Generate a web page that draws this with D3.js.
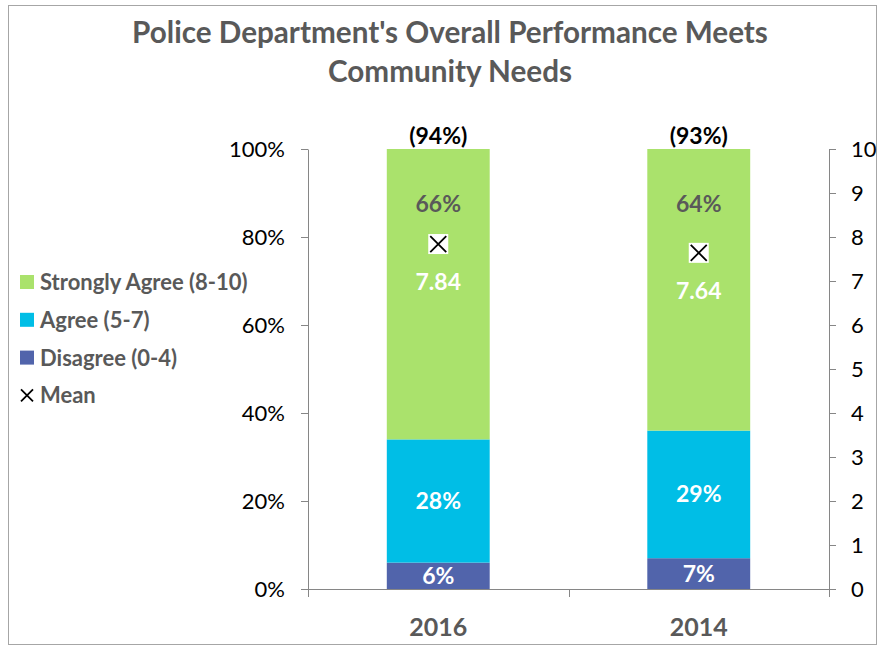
<!DOCTYPE html>
<html>
<head>
<meta charset="utf-8">
<script src="https://cdn.jsdelivr.net/npm/d3@7"></script>
<style>
  body { margin: 0; background: #fff; }
  svg { font-family: Lato, 'Open Sans', sans-serif; }
</style>
</head>
<body>
<div id="chart"></div>
<script>
// data
const years = ['2016', '2014'];
const disagree = [6, 7];
const agree = [28, 29];
const stronglyAgree = [66, 64];
const means = [7.84, 7.64];
const topLabels = ['(94%)', '(93%)'];
const percentTicks = [0, 0.2, 0.4, 0.6, 0.8, 1];
const meanTicks = [0, 1, 2, 3, 4, 5, 6, 7, 8, 9, 10];

const seriesNames = ['Disagree (0-4)', 'Agree (5-7)', 'Strongly Agree (8-10)'];
const seriesValues = [disagree, agree, stronglyAgree];
const colors = ['#5164ab', '#00bee6', '#aae26c'];

const width = 890;
const height = 646;
const plot = { left: 308, right: 829, top: 149, bottom: 589 };
const gray = '#595959';

const svg = d3.select('#chart')
  .append('svg')
  .attr('width', width)
  .attr('height', height);

// chart border
svg.append('rect')
  .attr('x', 8.5).attr('y', 5.5)
  .attr('width', 868).attr('height', 639)
  .attr('fill', '#fff')
  .attr('stroke', '#a6a6a6');

// scales
const x = d3.scaleBand().domain(years).range([plot.left, plot.right]);
const y = d3.scaleLinear().domain([0, 1]).range([plot.bottom, plot.top]);
const y2 = d3.scaleLinear().domain([0, 10]).range([plot.bottom, plot.top]);
const barWidth = x.bandwidth() * 0.395;

// stacked rows
const rows = years.map((year, i) => {
  const r = { year };
  seriesNames.forEach((name, s) => { r[name] = seriesValues[s][i]; });
  return r;
});
const stack = d3.stack().keys(seriesNames)(rows);

// title
const title = svg.append('g')
  .attr('fill', gray)
  .attr('font-weight', 700)
  .attr('text-anchor', 'middle');
['Police Department\'s Overall Performance Meets', 'Community Needs'].forEach((line, i) => {
  title.append('text')
    .attr('x', 450)
    .attr('y', 43 + i * 39)
    .attr('font-size', 26)
    .text(line);
});
// fit first line to reference width
const t0 = title.select('text').node();
const scale = 636 / t0.getComputedTextLength();
title.selectAll('text').attr('font-size', 26 * scale);

// axes
const axisColor = '#868686';
const leftAxis = svg.append('g')
  .attr('transform', `translate(${plot.left},0)`)
  .call(d3.axisLeft(y).tickValues(percentTicks).tickFormat(d3.format('.0%'))
    .tickSize(7).tickPadding(16).tickSizeOuter(0));
const rightAxis = svg.append('g')
  .attr('transform', `translate(${plot.right},0)`)
  .call(d3.axisRight(y2).tickValues(meanTicks).tickSize(7).tickPadding(15).tickSizeOuter(0));
[leftAxis, rightAxis].forEach((g) => {
  g.select('.domain').attr('stroke', axisColor);
  g.selectAll('.tick line').attr('stroke', axisColor);
  g.selectAll('.tick text')
    .attr('font-size', 22)
    .attr('font-family', 'Lato, sans-serif')
    .attr('fill', '#000');
});

// bottom axis
const bottom = svg.append('g');
bottom.append('line')
  .attr('x1', plot.left).attr('x2', plot.right)
  .attr('y1', plot.bottom + 0.5).attr('y2', plot.bottom + 0.5)
  .attr('stroke', axisColor);
bottom.selectAll('line.tick')
  .data([...years.map((d) => x(d)), plot.right])
  .join('line')
  .attr('class', 'tick')
  .attr('x1', (d) => Math.round(d) + 0.5).attr('x2', (d) => Math.round(d) + 0.5)
  .attr('y1', plot.bottom).attr('y2', plot.bottom + 8)
  .attr('stroke', axisColor);
bottom.selectAll('text')
  .data(years)
  .join('text')
  .attr('x', (d) => x(d) + x.bandwidth() / 2)
  .attr('y', 636)
  .attr('text-anchor', 'middle')
  .attr('font-size', 25)
  .attr('font-weight', 700)
  .attr('fill', gray)
  .text((d) => d);

// bars
const barX = (d) => x(d.data.year) + (x.bandwidth() - barWidth) / 2;
const layers = svg.append('g')
  .selectAll('g')
  .data(stack)
  .join('g')
  .attr('fill', (d, i) => colors[i]);
layers.selectAll('rect')
  .data((d) => d)
  .join('rect')
  .attr('x', barX)
  .attr('width', barWidth)
  .attr('y', (d) => y(d[1] / 100))
  .attr('height', (d) => y(d[0] / 100) - y(d[1] / 100));

// segment labels
const cx = (year) => x(year) + x.bandwidth() / 2;
const labels = svg.append('g')
  .attr('text-anchor', 'middle')
  .attr('font-weight', 700)
  .attr('font-size', 23);
stack.forEach((layer, s) => {
  labels.selectAll(null)
    .data(layer)
    .join('text')
    .attr('x', (d) => cx(d.data.year))
    .attr('y', (d) => {
      if (s === 2) return y(d[1] / 100) + 63;
      return y((d[0] + d[1]) / 200) + 8;
    })
    .attr('fill', s === 2 ? gray : '#fff')
    .text((d) => `${d[1] - d[0]}%`);
});

// top totals
labels.selectAll(null)
  .data(years)
  .join('text')
  .attr('x', (d) => cx(d))
  .attr('y', plot.top - 5)
  .attr('font-size', 23)
  .attr('fill', '#000')
  .text((d, i) => topLabels[i]);

// mean markers
const marker = svg.append('g')
  .selectAll('g')
  .data(years)
  .join('g')
  .attr('transform', (d, i) => `translate(${cx(d)},${y2(means[i])})`);
marker.append('rect')
  .attr('x', -10).attr('y', -10)
  .attr('width', 20).attr('height', 20)
  .attr('fill', '#fff');
marker.append('path')
  .attr('d', 'M-8,-8L8,8M8,-8L-8,8')
  .attr('stroke', '#000')
  .attr('stroke-width', 1.8);
labels.selectAll(null)
  .data(years)
  .join('text')
  .attr('x', (d) => cx(d))
  .attr('y', (d, i) => y2(means[i]) + 46)
  .attr('fill', '#fff')
  .text((d, i) => means[i].toFixed(2));

// legend
const legendItems = [
  { name: seriesNames[2], color: colors[2] },
  { name: seriesNames[1], color: colors[1] },
  { name: seriesNames[0], color: colors[0] },
  { name: 'Mean', color: null },
];
const legend = svg.append('g')
  .selectAll('g')
  .data(legendItems)
  .join('g')
  .attr('transform', (d, i) => `translate(20,${282 + i * 37.8})`);
legend.filter((d) => d.color)
  .append('rect')
  .attr('x', 0).attr('y', -7)
  .attr('width', 14).attr('height', 14)
  .attr('fill', (d) => d.color);
legend.filter((d) => !d.color)
  .append('path')
  .attr('d', 'M1,-6L13,6M13,-6L1,6')
  .attr('stroke', '#000')
  .attr('stroke-width', 1.8);
legend.append('text')
  .attr('x', 20)
  .attr('y', 8)
  .attr('font-size', 22)
  .attr('font-weight', 700)
  .attr('fill', gray)
  .text((d) => d.name);
</script>
</body>
</html>
